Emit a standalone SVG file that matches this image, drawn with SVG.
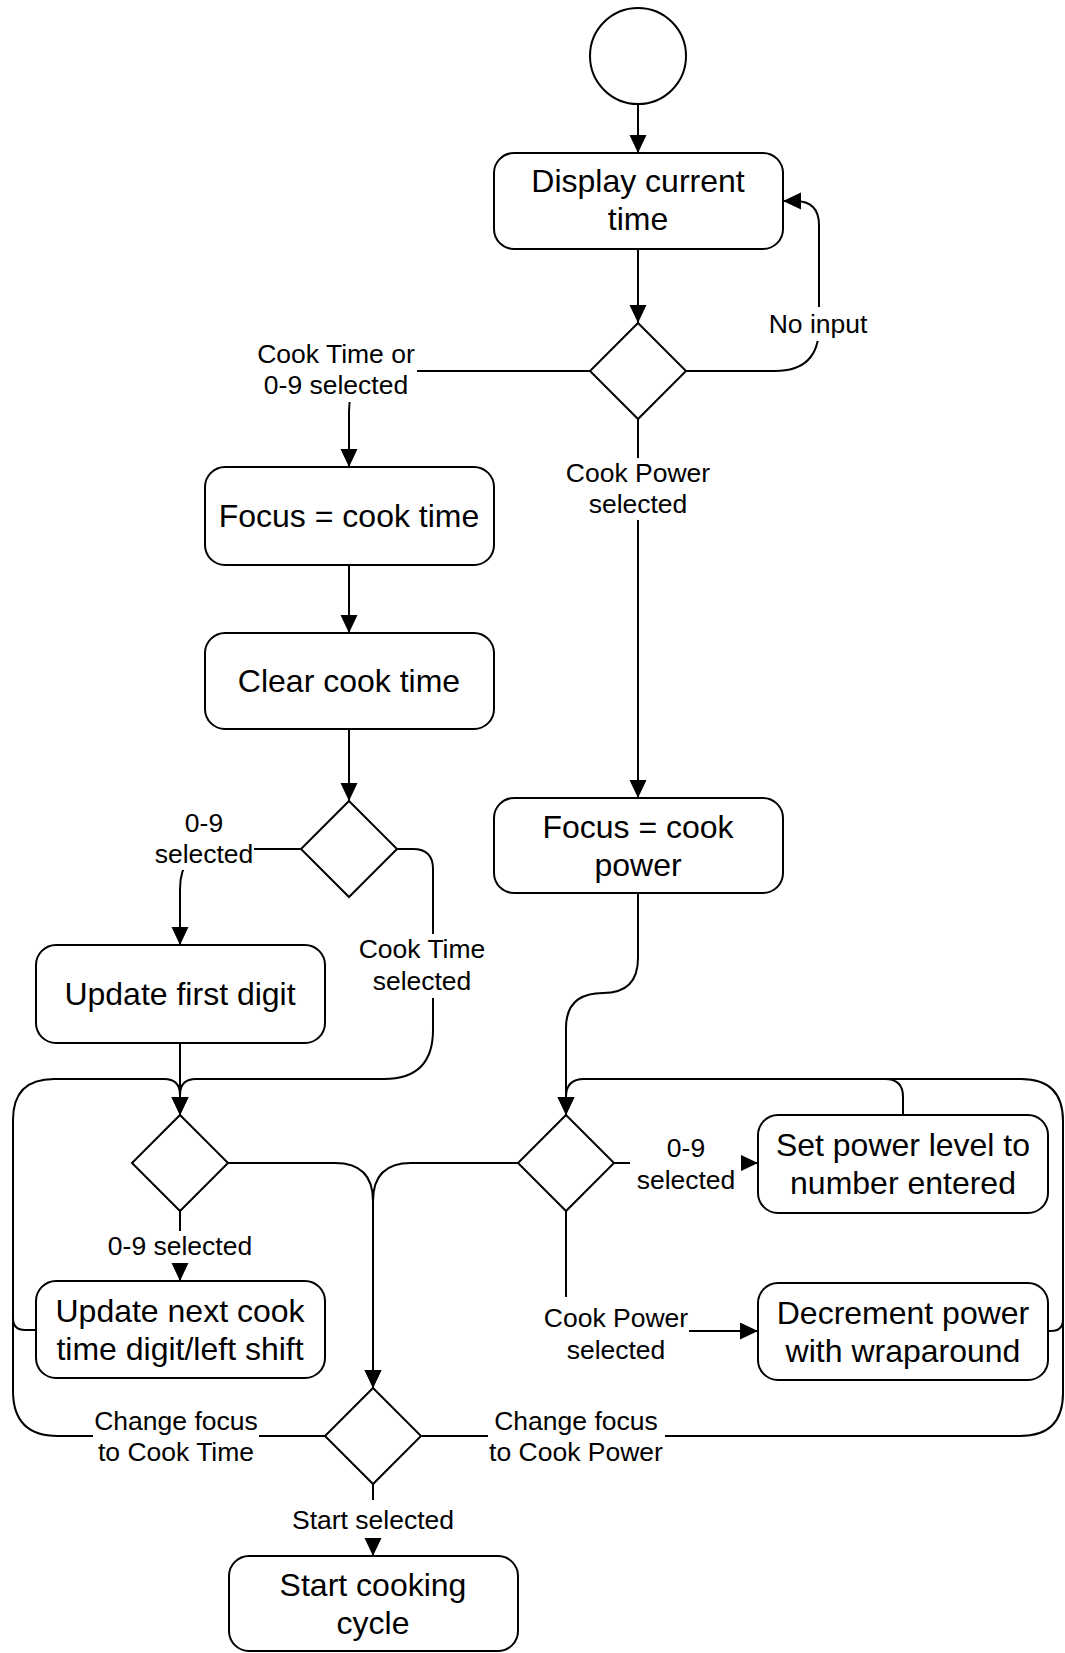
<svg xmlns="http://www.w3.org/2000/svg" width="1065" height="1653" viewBox="0 0 1065 1653">
<style>
.n{fill:#fff;stroke:#000;stroke-width:2}
.c{fill:none;stroke:#000;stroke-width:2}
.a{marker-end:url(#arr)}
.t{font-family:"Liberation Sans",Arial,sans-serif;font-size:32px;text-anchor:middle;fill:#000}
.l{font-family:"Liberation Sans",Arial,sans-serif;font-size:26.5px;text-anchor:middle;fill:#000}
.bg{fill:#fff;stroke:none}
</style>
<defs>
<marker id="arr" markerUnits="userSpaceOnUse" markerWidth="18" markerHeight="18" refX="18" refY="8.5" orient="auto">
<path d="M0,0 L18,8.5 L0,17 Z" fill="#000"/>
</marker>
</defs>
<rect width="1065" height="1653" fill="#fff"/>
<g id="connectors">
<path class="c a" d="M638,104 V153"/>
<path class="c a" d="M638,249 V323"/>
<path class="c a" d="M686,371 H775 Q819,371 819,327 V225 Q819,201 795,201 H783"/>
<path class="c a" d="M590,371 H389 Q349,371 349,411 V467"/>
<path class="c a" d="M638,419 V798"/>
<path class="c a" d="M349,565 V633"/>
<path class="c a" d="M349,729 V801"/>
<path class="c a" d="M301,849 H220 Q180,849 180,889 V945"/>
<path class="c a" d="M397,849 H413 Q433,849 433,869 V1030 Q433,1079 384,1079 H196 Q180,1079 180,1095 V1115"/>
<path class="c a" d="M180,1043 V1115"/>
<path class="c a" d="M36,1330 H25 Q13,1330 13,1318 V1120 Q13,1079 54,1079 H164 Q180,1079 180,1095 V1115"/>
<path class="c" d="M325,1436 H58 Q13,1436 13,1391 V1318"/>
<path class="c a" d="M180,1211 V1281"/>
<path class="c a" d="M228,1163 H335 Q373,1163 373,1201 V1388"/>
<path class="c a" d="M518,1163 H411 Q373,1163 373,1201 V1388"/>
<path class="c a" d="M638,893 V958 Q638,993 603,993 Q566,993 566,1028 V1115"/>
<path class="c a" d="M903,1115 V1097 Q903,1079 885,1079 H584 Q566,1079 566,1097 V1115"/>
<path class="c" d="M1048,1331 H1051 Q1063,1331 1063,1319 V1121 Q1063,1079 1021,1079 H870"/>
<path class="c" d="M422,1436 H1020 Q1063,1436 1063,1393 V1300"/>
<path class="c a" d="M614,1163 H758"/>
<path class="c a" d="M566,1211 V1295 Q566,1331 602,1331 H758"/>
<path class="c a" d="M373,1484 V1556"/>
<g id="labels">
<rect class="bg" x="768" y="307" width="102" height="34"/>
<text class="l" x="818" y="333">No input</text>
<rect class="bg" x="255" y="340" width="162" height="62"/>
<text class="l" x="336" y="363">Cook Time or</text>
<text class="l" x="336" y="394">0-9 selected</text>
<rect class="bg" x="565" y="458" width="147" height="62"/>
<text class="l" x="638" y="482">Cook Power</text>
<text class="l" x="638" y="513">selected</text>
<rect class="bg" x="153" y="808" width="101" height="62"/>
<text class="l" x="204" y="832">0-9</text>
<text class="l" x="204" y="863">selected</text>
<rect class="bg" x="357" y="934" width="130" height="64"/>
<text class="l" x="422" y="958">Cook Time</text>
<text class="l" x="422" y="990">selected</text>
<rect class="bg" x="107" y="1231" width="146" height="32"/>
<text class="l" x="180" y="1255">0-9 selected</text>
<rect class="bg" x="630" y="1125" width="111" height="72"/>
<text class="l" x="686" y="1157">0-9</text>
<text class="l" x="686" y="1189">selected</text>
<rect class="bg" x="543" y="1297" width="146" height="70"/>
<text class="l" x="616" y="1327">Cook Power</text>
<text class="l" x="616" y="1359">selected</text>
<rect class="bg" x="93" y="1405" width="166" height="64"/>
<text class="l" x="176" y="1430">Change focus</text>
<text class="l" x="176" y="1461">to Cook Time</text>
<rect class="bg" x="488" y="1405" width="177" height="64"/>
<text class="l" x="576" y="1430">Change focus</text>
<text class="l" x="576" y="1461">to Cook Power</text>
<rect class="bg" x="291" y="1500" width="164" height="38"/>
<text class="l" x="373" y="1529" textLength="162" lengthAdjust="spacingAndGlyphs">Start selected</text>
</g>
</g>
<g id="start"><circle class="n" cx="638" cy="56" r="48"/></g>
<g id="display"><rect class="n" x="494" y="153" width="289" height="96" rx="20"/>
<text class="t" x="638" y="192">Display current</text><text class="t" x="638" y="230">time</text></g>
<g id="d1"><polygon class="n" points="638,323 686,371 638,419 590,371"/></g>
<g id="focusTime"><rect class="n" x="205" y="467" width="289" height="98" rx="20"/>
<text class="t" x="349" y="527">Focus = cook time</text></g>
<g id="clear"><rect class="n" x="205" y="633" width="289" height="96" rx="20"/>
<text class="t" x="349" y="692">Clear cook time</text></g>
<g id="d2"><polygon class="n" points="349,801 397,849 349,897 301,849"/></g>
<g id="focusPower"><rect class="n" x="494" y="798" width="289" height="95" rx="20"/>
<text class="t" x="638" y="838">Focus = cook</text><text class="t" x="638" y="876">power</text></g>
<g id="firstDigit"><rect class="n" x="36" y="945" width="289" height="98" rx="20"/>
<text class="t" x="180" y="1005">Update first digit</text></g>
<g id="d3"><polygon class="n" points="180,1115 228,1163 180,1211 132,1163"/></g>
<g id="nextDigit"><rect class="n" x="36" y="1281" width="289" height="97" rx="20"/>
<text class="t" x="180" y="1322">Update next cook</text><text class="t" x="180" y="1360">time digit/left shift</text></g>
<g id="d4"><polygon class="n" points="566,1115 614,1163 566,1211 518,1163"/></g>
<g id="setPower"><rect class="n" x="758" y="1115" width="290" height="98" rx="20"/>
<text class="t" x="903" y="1156" textLength="254" lengthAdjust="spacingAndGlyphs">Set power level to</text><text class="t" x="903" y="1194">number entered</text></g>
<g id="decrement"><rect class="n" x="758" y="1283" width="290" height="97" rx="20"/>
<text class="t" x="903" y="1324">Decrement power</text><text class="t" x="903" y="1362">with wraparound</text></g>
<g id="d5"><polygon class="n" points="373,1388 421,1436 373,1484 325,1436"/></g>
<g id="startCooking"><rect class="n" x="229" y="1556" width="289" height="95" rx="20"/>
<text class="t" x="373" y="1596">Start cooking</text><text class="t" x="373" y="1634">cycle</text></g>
</svg>
